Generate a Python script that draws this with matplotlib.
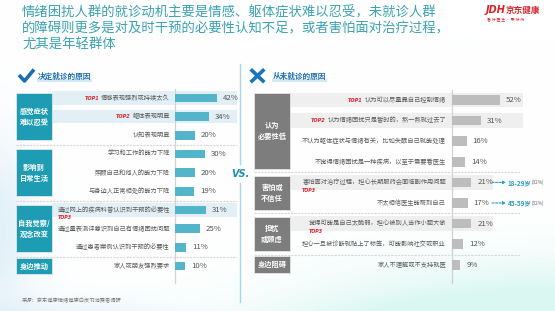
import numpy as np
import matplotlib
matplotlib.use("Agg")
import matplotlib.pyplot as plt
from matplotlib.patches import Rectangle
from matplotlib.lines import Line2D
import matplotlib.transforms as mtrans

plt.rcParams['font.family'] = ['Noto Sans CJK SC', 'DejaVu Sans']

# ---------------- data ----------------
title_lines = ["情绪困扰人群的就诊动机主要是情感、躯体症状难以忍受，未就诊人群",
               "的障碍则更多是对及时干预的必要性认知不足，或者害怕面对治疗过程，",
               "尤其是年轻群体"]

left_header = "决定就诊的原因"
left_labels = ["情感表现强烈或持续太久", "躯体表现明显", "认知表现明显",
               "学习和工作的能力下降", "照顾自己和他人的能力下降", "与身边人正常相处的能力下降",
               "通过网上的疾病科普认识到干预的必要性", "通过量表测评意识到自己有情绪困扰问题",
               "通过患者案例认识到干预的必要性", "家人或朋友强烈要求"]
left_values = [42, 34, 20, 30, 20, 19, 31, 25, 11, 10]
left_group_names = ["感觉症状\n难以忍受", "影响到\n日常生活", "自我觉察/\n观念改变", "身边推动"]
left_group_start = [0, 3, 6, 9]
left_group_end = [2, 5, 8, 9]
left_top_inline = {0: "TOP1", 1: "TOP2"}
left_top_below = {6: "TOP3"}
left_band_rows = [0, 1, 6]

right_header = "从未就诊的原因"
right_labels = ["认为可以尽量靠自己控制情绪", "认为情绪困扰只是暂时的，熬一熬就过去了",
                "不认为躯体症状与情绪有关，比如失眠自己就能处理", "不觉得情绪困扰是一种疾病，以至于需要看医生",
                "害怕面对治疗过程，担心长期服药会面临副作用问题", "不太相信医生能帮到自己",
                "觉得可能是自己太脆弱，担心被别人当作小题大做", "担心一旦被诊断就贴上了标签，可能影响社交或职业",
                "家人不理解或不支持就医"]
right_values = [52, 31, 16, 14, 21, 17, 21, 12, 9]
right_group_names = ["认为\n必要性低", "害怕或\n不信任", "担忧\n或顾虑", "身边阻碍"]
right_group_start = [0, 4, 6, 8]
right_group_end = [3, 5, 7, 8]
right_top_inline = {0: "TOP1", 1: "TOP2"}
right_top_below = {4: "TOP3", 6: "TOP3"}
right_band_rows_wide = [0, 1]
right_band_rows_short = [4, 6]
annot_rows = [4, 5]
annot_ages = ["18-29岁", "45-59岁"]
annot_pcts = ["(32%)", "(32%)"]

source_text = "来源：京东健康情绪健康白皮书消费者调研"

# ---------------- figure ----------------
W, H = 555, 311
fig = plt.figure(figsize=(W / 100, H / 100), dpi=100)
bg = fig.add_axes([0, 0, 1, 1])
bg.set_xlim(0, W)
bg.set_ylim(H, 0)
bg.axis('off')

# soft background gradient
yy, xx = np.mgrid[0:H, 0:W]
img = np.ones((H, W, 3))
mint = np.array([0.86, 0.97, 0.95])
blue = np.array([0.86, 0.93, 0.97])
wm = np.exp(-(((xx - 560) / 230.0) ** 2 + ((yy - 300) / 45.0) ** 2)) * 0.95
wm += np.exp(-(((xx - 420) / 160.0) ** 2 + ((yy - 318) / 25.0) ** 2)) * 0.6
wb = np.exp(-(((xx + 10) / 45.0) ** 2 + ((yy - 230) / 90.0) ** 2)) * 0.9
wb += np.exp(-(((xx - 60) / 120.0) ** 2 + ((yy - 320) / 22.0) ** 2)) * 0.6
wm = np.clip(wm, 0, 1)[..., None]
wb = np.clip(wb, 0, 1)[..., None]
img = img * (1 - wm) + mint * wm
img = img * (1 - wb) + blue * wb
bg.imshow(img, extent=[0, W, H, 0], zorder=0, aspect='auto')

# title
for i, line in enumerate(title_lines):
    bg.text(22, 12 + i * 16.5, line, fontsize=9.6, color='#3aa2b2', va='center', ha='left')

# logo
bg.text(486, 10, "JDH", fontsize=7, color='#d9232d', weight='bold', va='center', ha='left',
        family='DejaVu Sans', style='italic')
bg.text(506, 10, "京东健康", fontsize=6.2, color='#d9232d', weight='bold', va='center', ha='left')
bg.text(487, 19, "看 好 医 生 · 买 好 药", fontsize=2.8, color='#d9232d', va='center', ha='left')

# headers
bg.add_line(Line2D([19, 24.5, 34], [75, 81, 69.5], color='#1a6fb3', lw=2.6, solid_capstyle='butt'))
bg.add_patch(Rectangle((37, 78.5), 55, 3, color='#d3e9f5', lw=0, zorder=1))
bg.text(38, 76, left_header, fontsize=5.5, color='#1f6fb0', weight='bold', va='center', ha='left', zorder=2)
bg.add_line(Line2D([252, 263], [70.5, 81], color='#1a75b8', lw=2.6))
bg.add_line(Line2D([252, 263], [81, 70.5], color='#1a75b8', lw=2.6))
bg.add_patch(Rectangle((272, 78.5), 55, 3, color='#d3e9f5', lw=0, zorder=1))
bg.text(273, 76, right_header, fontsize=5.5, color='#1f6fb0', weight='bold', va='center', ha='left', zorder=2)

# divider and VS.
bg.add_line(Line2D([240, 240], [64, 164], color='#a6d6e7', lw=1.0))
bg.add_line(Line2D([240, 240], [183, 302], color='#a6d6e7', lw=1.0))
bg.text(240, 174, "VS.", fontsize=7, color='#2090b2', weight='bold', style='italic',
        family='DejaVu Sans', va='center', ha='center')

# source
bg.text(22, 301, source_text, fontsize=3.8, color='#7a7a7a', va='center', ha='left')


def ax_rect(x0, y0, x1, y1):
    return [x0 / W, 1 - y1 / H, (x1 - x0) / W, (y1 - y0) / H]


LABEL_FS = 4.5
EM = LABEL_FS * 100 / 72.0


def draw_panel(rect, xmax, labels, values, bar_color, label_x, band_color, band_specs,
               group_names, gstart, gend, box_x0, box_x1, box_color, box_inset,
               sep_x0, sep_x1, top_inline, top_below):
    ax = fig.add_axes(ax_rect(*rect))
    n = len(values)
    ax.set_xlim(0, xmax)
    ax.set_ylim(n - 0.5, -0.5)
    ax.axis('off')
    ax.patch.set_alpha(0)
    bt = mtrans.blended_transform_factory(bg.transData, ax.transData)
    rows = np.arange(n)
    ax.barh(rows, values, height=0.47, color=bar_color, zorder=3)
    ax.axvline(0, ymin=-0.04, ymax=1.0, color='#d2d2d2', lw=0.9, clip_on=False, zorder=2)
    off = mtrans.offset_copy(ax.transData, fig=fig, x=6, y=0, units='dots')
    for r, v in zip(rows, values):
        ax.text(v, r, f"{v}%", transform=off, fontsize=5.6, color='#555555',
                va='center', ha='left', zorder=4)
    # bands
    for rws, xa, xb in band_specs:
        for r in rws:
            ax.add_patch(Rectangle((xa, r - 0.35), xb - xa, 0.7, transform=bt, color=band_color,
                                   lw=0, clip_on=False, zorder=0.5))
    # labels
    for r, lab in enumerate(labels):
        ax.text(label_x, r, lab, transform=bt, fontsize=LABEL_FS, color='#5a5a5a',
                va='center', ha='right', zorder=4)
        left_edge = label_x - len(lab) * EM
        if r in top_inline:
            ax.text(left_edge - 2, r, top_inline[r], transform=bt, fontsize=3.6, color='#e0262e',
                    weight='bold', style='italic', family='DejaVu Sans', va='center', ha='right', zorder=4)
        if r in top_below:
            ax.text(left_edge, r + 0.38, top_below[r], transform=bt, fontsize=3.4, color='#e0262e',
                    weight='bold', style='italic', family='DejaVu Sans', va='center', ha='left', zorder=4)
    # groups
    for name, a, b in zip(group_names, gstart, gend):
        ins = box_inset if b > a else 0.08
        y0 = a - 0.5 + ins
        y1 = b + 0.5 - ins
        ax.add_patch(Rectangle((box_x0, y0), box_x1 - box_x0, y1 - y0, transform=bt,
                               facecolor=box_color, edgecolor='#e6e6e6', lw=0.6,
                               clip_on=False, zorder=3))
        ax.text((box_x0 + box_x1) / 2, (a + b) / 2, name, transform=bt, fontsize=5.2,
                color='white', weight='bold', va='center', ha='center', linespacing=1.6, zorder=4)
    for b in gend[:-1]:
        ax.add_line(Line2D([sep_x0, sep_x1], [b + 0.5, b + 0.5], transform=bt, color='#d8d8d8',
                           lw=0.8, ls=(0, (2, 1)), clip_on=False, zorder=1))
    return ax, bt


axL, btL = draw_panel((175, 88.67, 240, 275.33), 65, left_labels, left_values, '#52b5ca', 170,
                      '#e2f0f6', [(left_band_rows, 52, 237)],
                      left_group_names, left_group_start, left_group_end, 16, 52, '#1d9cb4', 0.25,
                      16, 237, left_top_inline, left_top_below)

axR, btR = draw_panel((452, 89.7, 545, 275.1), 101, right_labels, right_values, '#bdbdbd', 446,
                      '#efefef', [(right_band_rows_wide, 290, 523), (right_band_rows_short, 290, 493)],
                      right_group_names, right_group_start, right_group_end, 254, 290, '#7d7d7d', 0.17,
                      254, 520, right_top_inline, right_top_below)

for r, age, pct in zip(annot_rows, annot_ages, annot_pcts):
    axR.annotate('', xy=(506, r), xytext=(492, r), xycoords=btR, textcoords=btR,
                 arrowprops=dict(arrowstyle='-|>', color='#2a9fc4', lw=0.8, ls=(0, (2, 1.2)),
                                 mutation_scale=4, shrinkA=0, shrinkB=0), zorder=4)
    axR.text(508, r, age, transform=btR, fontsize=4.6, color='#2a9fc4', weight='bold',
             va='center', ha='left', zorder=4)
    axR.text(532, r, pct, transform=btR, fontsize=3.4, color='#666666', va='center', ha='left', zorder=4)

fig.savefig("out.png", dpi=100)
